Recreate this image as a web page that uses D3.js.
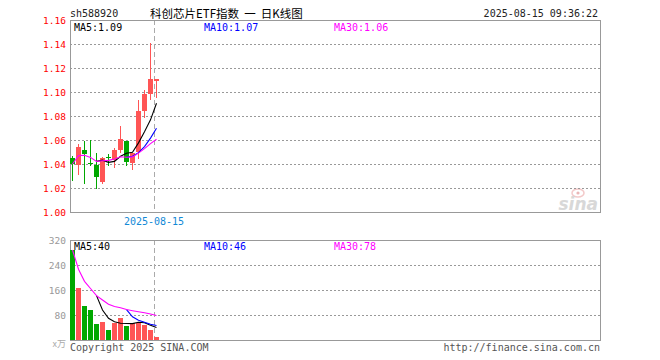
<!DOCTYPE html>
<html>
<head>
<meta charset="utf-8">
<script src="https://cdn.jsdelivr.net/npm/d3@7"></script>
<style>
  body { margin: 0; background: #fff; }
  text { font-family: "DejaVu Sans Mono", monospace; font-size: 10px; }
</style>
</head>
<body>
<svg id="chart" width="660" height="360"></svg>
<script>
// daily bars
const dates = ["2025-07-28", "2025-07-29", "2025-07-30", "2025-07-31", "2025-08-01",
               "2025-08-04", "2025-08-05", "2025-08-06", "2025-08-07", "2025-08-08",
               "2025-08-11", "2025-08-12", "2025-08-13", "2025-08-14", "2025-08-15"];
const opens  = [1.045, 1.039, 1.052, 1.041, 1.039, 1.025, 1.046, 1.043, 1.052, 1.059, 1.041, 1.050, 1.084, 1.098, 1.109];
const highs  = [1.047, 1.057, 1.059, 1.060, 1.049, 1.046, 1.048, 1.053, 1.072, 1.059, 1.049, 1.093, 1.102, 1.141, 1.111];
const lows   = [1.026, 1.031, 1.023, 1.038, 1.019, 1.023, 1.038, 1.037, 1.049, 1.038, 1.035, 1.044, 1.078, 1.093, 1.095];
const closes = [1.040, 1.054, 1.048, 1.040, 1.029, 1.045, 1.045, 1.052, 1.061, 1.042, 1.049, 1.084, 1.098, 1.111, 1.111];
const volumes = [288, 165, 110, 96, 51, 58, 32, 56, 72, 46, 56, 53, 48, 32, 11]; // 万

const priceTicks = [1.00, 1.02, 1.04, 1.06, 1.08, 1.10, 1.12, 1.14, 1.16];
const volTicks = [80, 160, 240, 320];

const RED = "#ff5555", GREEN = "#00a800";
const left = 70, right = 600;

const svg = d3.select("#chart");

const x = d3.scaleBand().domain(dates).range([left, left + 6 * dates.length]);
const yPrice = d3.scaleLinear().domain([1.00, 1.16]).range([212, 20]);
const yVol = d3.scaleLinear().domain([0, 320]).range([340, 240]);
const cx = d => x(d) + 2.5;

// moving average; partial=true averages whatever is available (used for MA30)
function movingAvg(values, n, partial) {
    return values.map((v, i) => {
        if (i < n - 1 && !partial) return null;
        const s = values.slice(Math.max(0, i - n + 1), i + 1);
        return d3.mean(s);
    });
}

const maDefs = [
    { n: 5, color: "#000", partial: false, lx: 74 },
    { n: 10, color: "#0000ff", partial: false, lx: 204 },
    { n: 30, color: "#ff00ff", partial: true, lx: 334 }
];

// Header
svg.append("text").attr("x", 70).attr("y", 17).attr("fill", "#222").text("sh588920");
svg.append("text").attr("x", 150).attr("y", 18)
    .style("font-family", "'Noto Sans CJK SC', sans-serif").style("font-size", "11.5px")
    .style("white-space", "pre")
    .attr("fill", "#000").text("科创芯片ETF指数  一  日K线图");
svg.append("text").attr("x", 598).attr("y", 17).attr("text-anchor", "end").attr("fill", "#222")
    .text("2025-08-15 09:36:22");

// sina watermark
const wm = svg.append("g").attr("opacity", 0.9);
wm.append("ellipse").attr("cx", 578).attr("cy", 193).attr("rx", 6).attr("ry", 4)
    .attr("fill", "none").attr("stroke", "#f2c4c4").attr("stroke-width", 1.5);
wm.append("circle").attr("cx", 578).attr("cy", 193).attr("r", 1.6).attr("fill", "#e8b0b0");
wm.append("text").attr("x", 598).attr("y", 210).attr("text-anchor", "end")
    .style("font-family", "'DejaVu Sans', sans-serif").style("font-size", "17px")
    .style("font-style", "italic").style("font-weight", "bold")
    .attr("fill", "#d4d4d4").text("sina");

function panel(yScale, ticks, top, bottom) {
    const g = svg.append("g");
    g.selectAll("line.grid")
        .data(ticks)
        .enter().append("line")
        .attr("class", "grid")
        .attr("x1", left).attr("x2", right)
        .attr("y1", d => Math.round(yScale(d)) + 0.5)
        .attr("y2", d => Math.round(yScale(d)) + 0.5)
        .attr("stroke", "#999").attr("stroke-dasharray", "2,2")
        .attr("shape-rendering", "crispEdges");
    g.append("line")
        .attr("x1", x(dates[dates.length - 1]) + 0.5).attr("x2", x(dates[dates.length - 1]) + 0.5)
        .attr("y1", top).attr("y2", bottom)
        .attr("stroke", "#aaa").attr("stroke-dasharray", "5,3")
        .attr("shape-rendering", "crispEdges");
    g.append("rect")
        .attr("x", left + 0.5).attr("y", top + 0.5)
        .attr("width", right - left).attr("height", bottom - top)
        .attr("fill", "none").attr("stroke", "#999")
        .attr("shape-rendering", "crispEdges");
    return g;
}

// Price panel
panel(yPrice, priceTicks.slice(1, -1), 20, 212);

const priceAxis = svg.append("g")
    .attr("transform", `translate(${left},0)`)
    .call(d3.axisLeft(yPrice).tickValues(priceTicks).tickFormat(d3.format(".2f")).tickSize(0).tickPadding(4));
priceAxis.select(".domain").remove();
priceAxis.selectAll("text")
    .style("font-family", "'DejaVu Sans Mono', monospace").style("font-size", "9.5px")
    .attr("fill", "#ff0000");

const candles = svg.append("g");
dates.forEach((d, i) => {
    const up = closes[i] >= opens[i];
    const color = up ? RED : GREEN;
    const wx = Math.floor(cx(d)) + 0.5;
    candles.append("line")
        .attr("x1", wx).attr("x2", wx)
        .attr("y1", Math.round(yPrice(highs[i]))).attr("y2", Math.round(yPrice(lows[i])))
        .attr("stroke", color).attr("shape-rendering", "crispEdges");
    const yTop = Math.round(yPrice(Math.max(opens[i], closes[i])));
    const yBot = Math.round(yPrice(Math.min(opens[i], closes[i])));
    candles.append("rect")
        .attr("x", x(d)).attr("width", x.bandwidth() - 1)
        .attr("y", yTop).attr("height", Math.max(1, yBot - yTop))
        .attr("fill", color).attr("shape-rendering", "crispEdges");
});

function drawMA(yScale, values, labelY, fmt) {
    maDefs.forEach(m => {
        const ma = movingAvg(values, m.n, m.partial);
        const pts = dates.map((d, i) => [cx(d), ma[i]]).filter(p => p[1] !== null);
        svg.append("path")
            .attr("d", d3.line().x(p => p[0]).y(p => yScale(p[1]))(pts))
            .attr("fill", "none").attr("stroke", m.color).attr("stroke-width", 1.1);
        svg.append("text").attr("x", m.lx).attr("y", labelY).attr("fill", m.color)
            .text(`MA${m.n}:${fmt(ma[ma.length - 1])}`);
    });
}
drawMA(yPrice, closes, 31, d3.format(".2f"));

// date label
svg.append("text")
    .attr("x", x(dates[dates.length - 1]))
    .attr("y", 225).attr("text-anchor", "middle").attr("fill", "#1289d6")
    .text(dates[dates.length - 1]);

// Volume panel
panel(yVol, volTicks.slice(0, -1), 240, 340);

const volAxis = svg.append("g")
    .attr("transform", `translate(${left},0)`)
    .call(d3.axisLeft(yVol).tickValues(volTicks).tickFormat(d3.format("d")).tickSize(0).tickPadding(4));
volAxis.select(".domain").remove();
volAxis.selectAll("text")
    .style("font-family", "'DejaVu Sans Mono', monospace").style("font-size", "9.5px")
    .attr("fill", "#999");
svg.append("text").attr("x", 66).attr("y", 347).attr("text-anchor", "end")
    .style("font-family", "'Noto Sans CJK SC', sans-serif").style("font-size", "9px")
    .attr("fill", "#aaa").text("x万");

svg.append("g").selectAll("rect")
    .data(dates)
    .enter().append("rect")
    .attr("x", d => x(d))
    .attr("width", x.bandwidth() - 1)
    .attr("y", (d, i) => Math.round(yVol(volumes[i])))
    .attr("height", (d, i) => 340 - Math.round(yVol(volumes[i])))
    .attr("fill", (d, i) => closes[i] >= opens[i] ? RED : GREEN)
    .attr("shape-rendering", "crispEdges");

drawMA(yVol, volumes, 250, d3.format("d"));

// Footer
svg.append("text").attr("x", 70).attr("y", 351).attr("fill", "#555").text("Copyright 2025 SINA.COM");
svg.append("text").attr("x", 600).attr("y", 351).attr("text-anchor", "end").attr("fill", "#555")
    .text("http://finance.sina.com.cn");
</script>
</body>
</html>
